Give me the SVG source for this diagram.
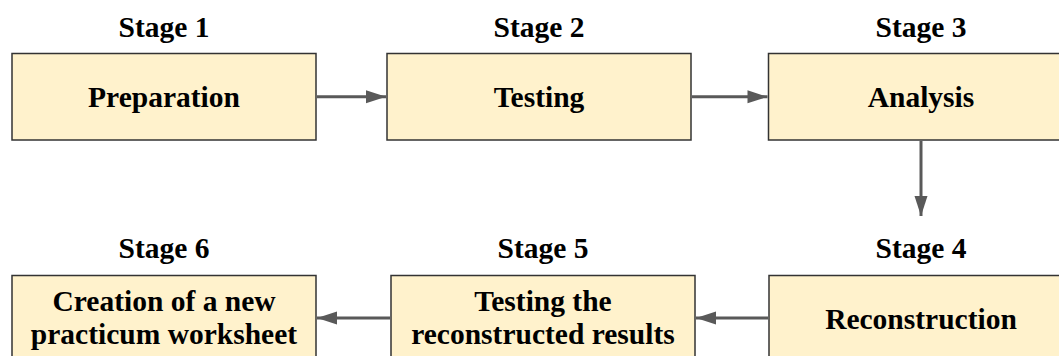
<svg xmlns="http://www.w3.org/2000/svg" width="1059" height="356" viewBox="0 0 1059 356">
  <style>
    .box { fill: #fff2cc; stroke: #333333; stroke-width: 1.5; }
    .lbl { font-family: "Liberation Serif", "Times New Roman", serif; font-weight: bold; font-size: 29.5px; fill: #000000; text-anchor: middle; }
    .edge { fill: none; stroke: #595959; stroke-width: 3; marker-end: url(#arrow); }
  </style>
  <defs>
    <marker id="arrow" viewBox="0 0 20 13" refX="20" refY="6.5" markerWidth="20" markerHeight="13" markerUnits="userSpaceOnUse" orient="auto" overflow="visible">
      <path d="M0,0 L20,6.5 L0,13 Z" fill="#595959"/>
    </marker>
  </defs>

  <!-- Top row -->
  <g id="stage1">
    <text class="lbl" x="164" y="37">Stage 1</text>
    <rect class="box" x="12" y="53.5" width="304" height="86.5"/>
    <text class="lbl" x="164" y="107">Preparation</text>
  </g>
  <g id="stage2">
    <text class="lbl" x="539" y="37">Stage 2</text>
    <rect class="box" x="387" y="53.5" width="304" height="86.5"/>
    <text class="lbl" x="539" y="107">Testing</text>
  </g>
  <g id="stage3">
    <text class="lbl" x="921" y="37">Stage 3</text>
    <rect class="box" x="768.5" y="53.5" width="306" height="86.5"/>
    <text class="lbl" x="921" y="107">Analysis</text>
  </g>

  <!-- Bottom row -->
  <g id="stage4">
    <text class="lbl" x="921" y="258">Stage 4</text>
    <rect class="box" x="769" y="275.5" width="306" height="90"/>
    <text class="lbl" x="921" y="329">Reconstruction</text>
  </g>
  <g id="stage5">
    <text class="lbl" x="543" y="258">Stage 5</text>
    <rect class="box" x="391" y="275.5" width="304" height="90"/>
    <text class="lbl" x="543" y="311">Testing the</text>
    <text class="lbl" x="543" y="344">reconstructed results</text>
  </g>
  <g id="stage6">
    <text class="lbl" x="164" y="258">Stage 6</text>
    <rect class="box" x="12" y="275.5" width="304" height="90"/>
    <text class="lbl" x="164" y="311">Creation of a new</text>
    <text class="lbl" x="164" y="344">practicum worksheet</text>
  </g>

  <!-- Connectors -->
  <g id="connectors">
    <path d="M317,96.8 L386,96.8" class="edge"/>
    <path d="M692,96.8 L767.5,96.8" class="edge"/>
    <path d="M921,141 L921,216" class="edge"/>
    <path d="M768,318 L696,318" class="edge"/>
    <path d="M390,318 L317,318" class="edge"/>
  </g>
</svg>
